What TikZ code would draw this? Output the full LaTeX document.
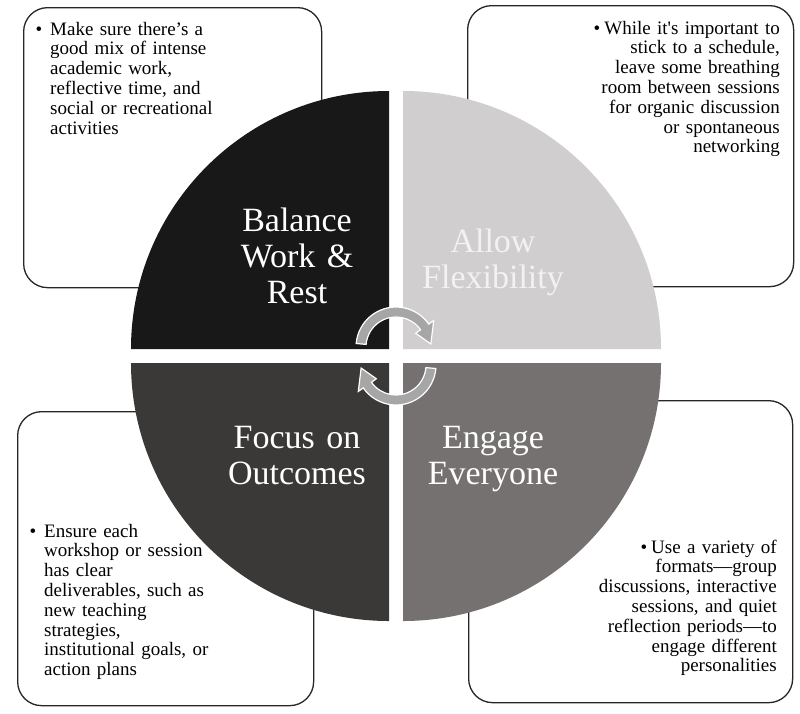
\documentclass[tikz,border=0pt]{standalone}
\usepackage{fontspec}
\setmainfont{Liberation Serif}
\definecolor{qa}{HTML}{181818}
\definecolor{qb}{HTML}{D0CECE}
\definecolor{qc}{HTML}{3B3838}
\definecolor{qd}{HTML}{767171}
\definecolor{arrowgray}{HTML}{A6A6A6}
\definecolor{boxline}{HTML}{262626}
\begin{document}
\begin{tikzpicture}[x=1pt,y=1pt,
  box/.style={draw=boxline, line width=1.3pt, fill=white, rounded corners=24pt, anchor=north west, inner sep=0pt},
  bodyl/.style={anchor=base west, text width=290pt, align=left, inner sep=0pt, font=\fontsize{19}{19.8}\selectfont},
  bodyr/.style={anchor=base east, text width=300pt, align=right, inner sep=0pt, font=\fontsize{19}{19.8}\selectfont},
  quadlabel/.style={anchor=base, text width=220pt, align=center, inner sep=0pt, font=\fontsize{34}{36}\selectfont},
  cyclearrow/.style={fill=arrowgray, draw=white, line width=1.2pt, line join=miter}]
\useasboundingbox (0,0) rectangle (800,-713);
\fill[white] (0,0) rectangle (800,-713);

% corner boxes
\node[box, minimum width=298pt, minimum height=280pt] (boxa) at (23,-7) {};
\node[box, minimum width=326pt, minimum height=281pt] (boxb) at (467,-5) {};
\node[box, minimum width=296pt, minimum height=294pt] (boxc) at (17,-411) {};
\node[box, minimum width=324pt, minimum height=302pt] (boxd) at (468,-400) {};

% quadrants
\fill[qa] (389,-349) -- ++(180:258) arc[start angle=180, end angle=90, radius=258] -- cycle;
\fill[qb] (403,-349) -- ++(90:258) arc[start angle=90, end angle=0, radius=258] -- cycle;
\fill[qc] (389,-363) -- ++(180:258) arc[start angle=180, end angle=270, radius=258] -- cycle;
\fill[qd] (403,-363) -- ++(0:258) arc[start angle=0, end angle=-90, radius=258] -- cycle;

% quadrant labels
\node[quadlabel, text=white] (la) at (297,-231) {Balance\\Work \&\\Rest};
\node[quadlabel, text=white!95!black] (lb) at (493,-252) {Allow\\Flexibility};
\node[quadlabel, text=white] (lc) at (297,-448) {Focus on\\Outcomes};
\node[quadlabel, text=white] (ld) at (493,-448) {Engage\\Everyone};

% cycle arrows
\begin{scope}[shift={(396,-347)}]
\path[cyclearrow] (175:40) arc[start angle=175, end angle=35, radius=40]
  -- (35:46) -- (5:35) -- (35:24) -- (35:30)
  arc[start angle=35, end angle=175, radius=30] -- cycle;
\end{scope}
\begin{scope}[shift={(396,-365)}, rotate=180]
\path[cyclearrow] (175:40) arc[start angle=175, end angle=35, radius=40]
  -- (35:46) -- (5:35) -- (35:24) -- (35:30)
  arc[start angle=35, end angle=175, radius=30] -- cycle;
\end{scope}

% body texts
\node[bodyl] (ta) at (50,-35) {\llap{•\hspace{8pt}}Make sure there’s a\\good mix of intense\\academic work,\\reflective time, and\\social or recreational\\activities};
\node[bodyr] (tb) at (780,-34) {•\hspace{4pt}While it\textquotesingle s important to\\stick to a schedule,\\leave some breathing\\room between sessions\\for organic discussion\\or spontaneous\\networking};
\node[bodyl] (tc) at (44,-537) {\llap{•\hspace{8pt}}Ensure each\\workshop or session\\has clear\\deliverables, such as\\new teaching\\strategies,\\institutional goals, or\\action plans};
\node[bodyr] (td) at (777,-553) {•\hspace{4pt}Use a variety of\\formats—group\\discussions, interactive\\sessions, and quiet\\reflection periods—to\\engage different\\personalities};
\end{tikzpicture}
\end{document}
